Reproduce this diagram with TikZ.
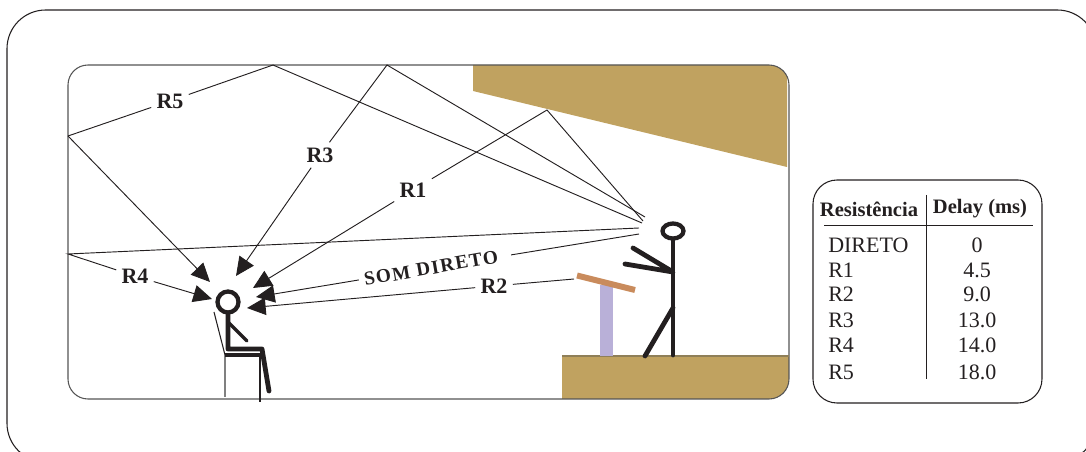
\documentclass[tikz,border=0pt]{standalone}
\usepackage{fontspec}
\setmainfont{Liberation Serif}
\usetikzlibrary{arrows.meta}
\definecolor{ink}{HTML}{231F20}
\definecolor{tan}{HTML}{C0A260}
\definecolor{tanedge}{HTML}{8F7F58}
\definecolor{lilac}{HTML}{B9B0D8}
\definecolor{wood}{HTML}{C98B5C}
\definecolor{frame}{HTML}{555555}
\tikzset{
  ray/.style={draw=ink,line width=0.7pt},
  rayarrow/.style={ray,-{Triangle[length=14pt,width=13pt]}},
  raylabel/.style={font=\fontsize{16.5}{16.5}\selectfont\bfseries,text=ink,inner sep=0pt,outer sep=4pt},
  figure/.style={draw=ink,line width=3.6pt,line cap=round,line join=round},
  head/.style={draw=ink,line width=3.2pt,fill=white},
  cell/.style={font=\fontsize{16.5}{16.5}\selectfont,text=ink,inner sep=0pt},
  hcell/.style={font=\fontsize{15.4}{15.4}\selectfont\bfseries,text=ink,inner sep=0pt},
}
\begin{document}
\begin{tikzpicture}[x=0.75pt,y=-0.75pt]
\useasboundingbox (0,0) rectangle (1086,452);
\clip (0,0) rectangle (1086,452);
% outer frame
\draw[ink,line width=0.8pt,rounded corners=29pt] (7,10) rectangle (1096,462);
% tan shapes
\begin{scope}
\clip[rounded corners=15pt] (68,65) rectangle (789,399);
\fill[tan] (473,65) -- (787,65) -- (787,167) -- (473,91) -- cycle;
\fill[tan] (562,356) rectangle (789,399);
\end{scope}
% inner frame
\draw[frame,line width=0.8pt,rounded corners=15pt] (68,65) rectangle (789,399);
\draw[tanedge,line width=0.8pt] (562,356) -- (789,356);
% lectern
\fill[lilac] (600,285) rectangle (613,356);
\draw[wood,line width=4.5pt] (577,275.5) -- (635,290);
% ray coordinates
\coordinate (wallR5) at (273,65);
\coordinate (wallL5) at (68,136);
\coordinate (tipR5) at (210,282);
\coordinate (wallR3) at (387,65);
\coordinate (tipR3) at (236,276);
\coordinate (wallR1) at (547,110);
\coordinate (tipR1) at (253,288);
\coordinate (wallR4) at (68,254);
\coordinate (tipR4) at (212,299);
\coordinate (tipD) at (256,297);
\coordinate (tipR2) at (247,308);
\coordinate (srcR5) at (642,223);
\coordinate (srcR3) at (645,217);
\coordinate (srcR1) at (643,221);
\coordinate (srcR4) at (639,228);
\coordinate (srcD) at (639,234);
\coordinate (srcR2) at (574,279);
% labels
\node[raylabel] (lR5) at (170,101) {R5};
\node[raylabel] (lR3) at (320,155) {R3};
\node[raylabel] (lR1) at (413,190) {R1};
\node[raylabel] (lR4) at (135,276) {R4};
\node[raylabel] (lR2) at (494,286) {R2};
\node[raylabel,font=\fontsize{14.5}{14.5}\selectfont\bfseries,rotate=10] (lD) at (431,268) {\addfontfeature{LetterSpace=7}SOM DIRETO};
% rays
\draw[ray] (srcR5) -- (wallR5) -- (lR5);
\draw[ray] (lR5) -- (wallL5);
\draw[rayarrow] (wallL5) -- (tipR5);
\draw[ray] (srcR3) -- (wallR3) -- (lR3);
\draw[rayarrow] (lR3) -- (tipR3);
\draw[ray] (srcR1) -- (wallR1) -- (lR1);
\draw[rayarrow] (lR1) -- (tipR1);
\draw[ray] (srcR4) -- (wallR4) -- (lR4);
\draw[rayarrow] (lR4) -- (tipR4);
\draw[ray,shorten >=6pt] (srcD) -- (lD);
\draw[rayarrow] (lD) -- (tipD);
\draw[ray] (srcR2) -- (lR2);
\draw[rayarrow] (lR2) -- (tipR2);
% speaker
\draw[figure] (673,240) -- (673,355);
\draw[figure] (633,248) -- (673,272) -- (625,264);
\draw[figure] (673,308) -- (645,356);
\draw[head] (673,231) ellipse[x radius=10.5,y radius=7.5];
% listener
\draw[ink,line width=0.8pt] (214,312) -- (225,355);
\draw[gray,line width=0.9pt] (225,355) -- (225,397);
\draw[ink,line width=1.6pt] (260,355) -- (260,402);
\draw[ink,line width=2.4pt] (225,355) -- (261,355);
\draw[figure] (228,312) -- (228,349) -- (262,349) -- (269,391);
\draw[figure,line width=2.6pt] (228,322) -- (247,341);
\draw[head] (228,302) circle[radius=10.5];
% table
\draw[ink,line width=0.8pt,rounded corners=18pt] (813,180) rectangle (1042,403);
\draw[ink,line width=0.7pt] (926,195) -- (926,379);
\draw[ink,line width=0.7pt] (824,225) -- (1033,225);
\node[hcell] (h1) at (869,209) {Resistência};
\node[hcell] (h2) at (980,209) {Delay (ms)};
\foreach \n/\t/\v/\y in {a/DIRETO/0/245,b/R1/4.5/270,c/R2/9.0/294,d/R3/13.0/320,e/R4/14.0/345,f/R5/18.0/372}{
  \node[cell,anchor=west] (n\n) at (828,\y) {\t};
  \node[cell] (v\n) at (977,\y) {\v};
}
\end{tikzpicture}
\end{document}
